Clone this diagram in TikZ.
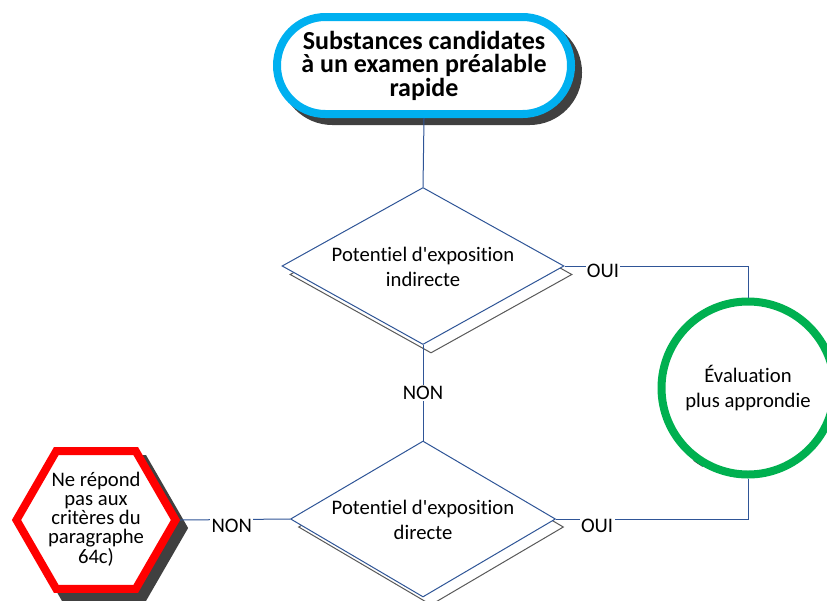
\documentclass[tikz,border=0pt]{standalone}
\usepackage{fontspec}
\setmainfont{Carlito}[Ligatures={NoCommon}]
\usetikzlibrary{shapes.geometric}
\definecolor{connc}{RGB}{47,85,151}
\definecolor{termc}{RGB}{0,176,240}
\definecolor{shadowc}{RGB}{64,64,64}
\definecolor{dshc}{RGB}{89,89,89}
\definecolor{greenc}{RGB}{0,176,80}
\definecolor{redc}{RGB}{255,0,0}
\begin{document}
\begin{tikzpicture}[x=0.75pt,y=-0.75pt,
  conn/.style={draw=connc, line width=0.75pt},
  lbl/.style={fill=white, inner sep=1pt, font=\fontsize{15.5}{18}\selectfont},
  txt/.style={align=center, inner sep=0pt, font=\fontsize{15.5}{18.75}\selectfont},
  term/.style={rectangle, rounded corners=36.3pt, minimum width=220.5pt, minimum height=72.75pt,
    line width=6pt, inner sep=0pt, align=center, font=\bfseries\fontsize{19.5}{17.6}\selectfont},
  diam/.style={diamond, draw=connc, fill=white, line width=0.75pt, inner sep=0pt},
  diamsh/.style={diamond, draw=dshc, fill=white, line width=0.75pt, inner sep=0pt},
  hexa/.style={regular polygon, regular polygon sides=6, minimum size=119.25pt, line width=6pt, inner sep=0pt}
]
\useasboundingbox (0,0) rectangle (827,600);

% terminator
\node[term, draw=shadowc, fill=shadowc] (tsh) at (431,72.5) {};
\node[term, draw=termc, fill=white] (t) at (424,65.5) {Substances candidates\\à un examen préalable\\rapide};

% decision 1
\node[diamsh, minimum width=211.5pt, minimum height=117.75pt] (d1sh) at (431,274.5) {};
\node[diam, minimum width=211.5pt, minimum height=117.75pt] (d1) at (423,266) {};
\node[txt] (d1t) at (423,266.5) {Potentiel d\textquotesingle exposition\\indirecte};

% decision 2
\node[diamsh, minimum width=198.75pt, minimum height=117pt] (d2sh) at (431,527) {};
\node[diam, minimum width=198.75pt, minimum height=117pt] (d2) at (423,519) {};
\node[txt] (d2t) at (423,520) {Potentiel d\textquotesingle exposition\\directe};

% circle
\draw[shadowc, line width=1.5pt] ([shift={(120:90)}]748,388) arc[start angle=120, end angle=127, radius=90];
\node[circle, draw=greenc, fill=white, line width=6pt, minimum size=129.75pt, inner sep=0pt, txt] (c) at (748,388) {Évaluation\\plus approndie};

% hexagon
\node[hexa, draw=shadowc, fill=shadowc] (hsh) at (104,528) {};
\node[hexa, draw=redc, fill=white] (h) at (96,520) {};
\node[align=center, inner sep=0pt, font=\fontsize{15.5}{14.4}\selectfont] (ht) at (96,519) {Ne répond\\pas aux\\critères du\\paragraphe\\64c)};

% connectors
\draw[conn] (t.south) -- (d1.north);
\draw[conn] (d1.south) -- node[lbl]{NON} (d2.north);
\draw[conn] (d1.east) -| node[lbl, pos=0.105, yshift=-3.5pt]{OUI} (c.north);
\draw[conn] (c.south) |- node[lbl, pos=0.893, yshift=-5pt]{OUI} (d2.east);
\draw[conn] (h.east) -- node[lbl, pos=0.47, yshift=-5pt]{NON} (d2.west);
\end{tikzpicture}
\end{document}
